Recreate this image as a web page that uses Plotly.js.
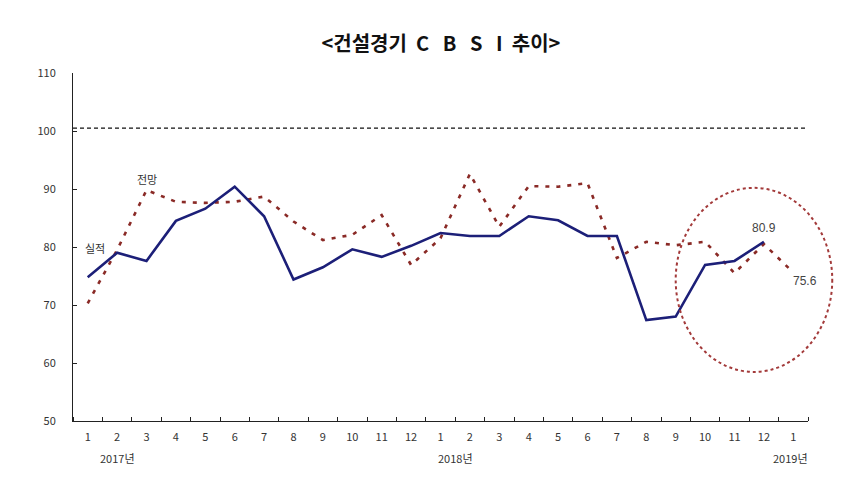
<!DOCTYPE html>
<html>
<head>
<meta charset="utf-8">
<script src="https://cdn.plot.ly/plotly-3.0.1.min.js"></script>
<style>
  body { margin: 0; background: #fff; }
  #chart { width: 868px; height: 495px; }
</style>
</head>
<body>
<div id="chart"></div>
<script>
// month labels, Jan 2017 .. Jan 2019
var months = ['1','2','3','4','5','6','7','8','9','10','11','12',
              '1','2','3','4','5','6','7','8','9','10','11','12','1'];
var idx = [];
for (var i = 0; i < months.length; i++) idx.push(i);

// 실적 (actual), Jan 2017 .. Dec 2018
var actual = [74.8, 79.0, 77.6, 84.5, 86.6, 90.4, 85.3, 74.4, 76.5, 79.6, 78.3, 80.2,
              82.4, 81.9, 81.9, 85.3, 84.6, 81.9, 81.9, 67.4, 68.0, 76.9, 77.6, 80.9];
// 전망 (forecast), Jan 2017 .. Jan 2019
var forecast = [70.3, 79.5, 89.8, 87.8, 87.6, 87.8, 88.7, 84.4, 81.2, 82.1, 85.5, 76.9,
                81.5, 92.6, 83.5, 90.5, 90.4, 91.0, 78.1, 80.9, 80.3, 80.9, 75.5, 80.5, 75.6];

var years = ['2017년', '2018년', '2019년'];
var yearPos = [1, 12.5, 23.9];

var FONT = 'Noto Sans CJK KR, Noto Sans, sans-serif';

var actualTrace = {
    x: idx.slice(0, actual.length),
    y: actual,
    name: '실적',
    type: 'scatter',
    mode: 'lines',
    line: {color: '#1c1f78', width: 2.6}
};
var forecastTrace = {
    x: idx,
    y: forecast,
    name: '전망',
    type: 'scatter',
    mode: 'lines',
    line: {color: '#8a2a26', width: 2.6, dash: '4px,7px'}
};

var annotations = [];
for (var k = 0; k < years.length; k++) {
    annotations.push({
        x: yearPos[k], y: 0, xref: 'x', yref: 'paper', yshift: -47,
        text: years[k], showarrow: false,
        font: {family: FONT, size: 11, color: '#333'}
    });
}
annotations.push({x: 2.0, y: 91.8, xref: 'x', yref: 'y', text: '전망', showarrow: false,
    font: {family: FONT, size: 11, color: '#333'}});
annotations.push({x: 0.25, y: 79.8, xref: 'x', yref: 'y', text: '실적', showarrow: false,
    font: {family: FONT, size: 11, color: '#333'}});
annotations.push({x: actual.length - 1, y: actual[actual.length - 1], xref: 'x', yref: 'y',
    text: actual[actual.length - 1].toFixed(1), showarrow: false, yshift: 14,
    font: {family: 'Liberation Sans, Arial, sans-serif', size: 12, color: '#444'}});
annotations.push({x: forecast.length - 1, y: forecast[forecast.length - 1], xref: 'x', yref: 'y',
    text: forecast[forecast.length - 1].toFixed(1), showarrow: false, xshift: 12, yshift: -8,
    font: {family: 'Liberation Sans, Arial, sans-serif', size: 12, color: '#444'}});

var layout = {
    width: 868,
    height: 495,
    paper_bgcolor: '#fff',
    plot_bgcolor: '#fff',
    showlegend: false,
    margin: {l: 73, r: 60, t: 73, b: 74},
    title: {
        text: '<b>&lt;건설경기&nbsp; C&nbsp;&nbsp; B&nbsp;&nbsp; S&nbsp;&nbsp; I&nbsp; 추이&gt;</b>',
        x: 0.508, xanchor: 'center', y: 0.925,
        font: {family: FONT, size: 20, color: '#111'}
    },
    xaxis: {
        range: [-0.5, 24.5],
        tickvals: idx,
        ticktext: months,
        ticks: '',
        ticklabelstandoff: 6,
        showgrid: false,
        zeroline: false,
        showline: true,
        linecolor: '#222',
        linewidth: 1,
        minor: {tick0: 0.5, dtick: 1, ticks: 'inside', ticklen: 4, tickcolor: '#222', showgrid: false},
        tickfont: {family: FONT, size: 11, color: '#333'}
    },
    yaxis: {
        range: [50, 110],
        tickvals: [50, 60, 70, 80, 90, 100, 110],
        ticks: 'inside',
        ticklen: 4,
        tickcolor: '#222',
        ticklabelstandoff: 14,
        showgrid: false,
        zeroline: false,
        showline: true,
        linecolor: '#222',
        linewidth: 1,
        tickfont: {family: FONT, size: 11, color: '#333'}
    },
    shapes: [
        {type: 'line', xref: 'paper', yref: 'y', x0: 0, x1: 1.0, y0: 100.5, y1: 100.5,
         line: {color: '#111', width: 1.3, dash: '4px,3px'}},
        {type: 'circle', xref: 'paper', yref: 'paper', x0: 0.820, x1: 1.033, y0: 0.141, y1: 0.670,
         line: {color: '#a33a3a', width: 2, dash: 'dot'}}
    ],
    annotations: annotations
};

Plotly.newPlot('chart', [forecastTrace, actualTrace], layout, {displayModeBar: false});
</script>
</body>
</html>
